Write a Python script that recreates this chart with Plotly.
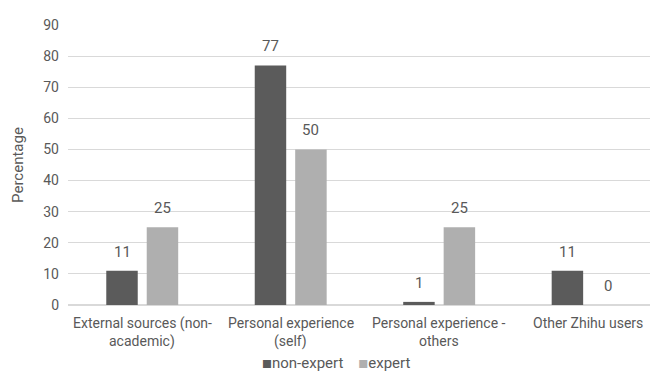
import plotly.graph_objects as go

# Category names; "<br>" marks where each label wraps onto a second line
categories = [
    "External sources (non-<br>academic)",
    "Personal experience<br>(self)",
    "Personal experience -<br>others",
    "Other Zhihu users",
]
non_expert = [11, 77, 1, 11]
expert = [25, 50, 25, 0]
y_ticks = [0, 10, 20, 30, 40, 50, 60, 70, 80, 90]
series_names = ["non-expert", "expert"]
series_colors = ["#5b5b5b", "#afafaf"]

FONT = "Roboto"
TEXT_COLOR = "#595959"
GRID = "#d9d9d9"

# Plot area geometry (pixels)
L, T, B, W, H = 68, 25, 68, 650, 373
PLOT_W = W - L
BAR_OFFSET = 20  # px from category centre to each bar centre

fig = go.Figure()
for name, vals, color in zip(series_names, [non_expert, expert], series_colors):
    fig.add_trace(go.Bar(
        name=name, x=categories, y=vals,
        marker=dict(color=color, line=dict(width=0)),
        showlegend=False,
    ))

annotations = []
# Value labels above each bar
for vals, shift in [(non_expert, -BAR_OFFSET), (expert, BAR_OFFSET)]:
    for cat, v in zip(categories, vals):
        annotations.append(dict(
            x=cat, y=v, xref="x", yref="y", text=str(v), showarrow=False,
            xshift=shift, yshift=19, yanchor="middle", xanchor="center",
            font=dict(family=FONT, size=15, color=TEXT_COLOR),
        ))

# Category labels under the axis, one annotation per line
for cat in categories:
    for i, line in enumerate(cat.split("<br>")):
        annotations.append(dict(
            x=cat, y=0, xref="x", yref="paper", text=line, showarrow=False,
            yshift=-18 - 18 * i, yanchor="middle", xanchor="center",
            font=dict(family=FONT, size=14, color=TEXT_COLOR),
        ))

# Legend row: small square swatch followed by the series name
legend_text = "&nbsp;&nbsp;&nbsp;&nbsp;".join(
    f"<span style='color:{c};font-family:Noto Sans CJK SC;font-size:10px'>■</span>{n}"
    for n, c in zip(series_names, series_colors)
)
annotations.append(dict(
    x=(336 - L) / PLOT_W, y=0, xref="paper", yref="paper", text=legend_text,
    showarrow=False, yshift=-58, yanchor="middle", xanchor="center",
    font=dict(family=FONT, size=15, color=TEXT_COLOR),
))

fig.update_layout(
    width=W, height=H,
    margin=dict(l=L, r=0, t=T, b=B),
    paper_bgcolor="white", plot_bgcolor="white",
    barmode="group", bargap=0.455, bargroupgap=0.222,
    font=dict(family=FONT, size=13, color=TEXT_COLOR),
    showlegend=False,
    annotations=annotations,
    xaxis=dict(
        range=[-0.5, 3.42], showgrid=False, showline=True,
        linecolor=GRID, linewidth=1, ticks="", showticklabels=False,
        fixedrange=True,
    ),
    yaxis=dict(
        range=[0, 90], tickvals=y_ticks, showgrid=True,
        gridcolor=GRID, gridwidth=1, zeroline=True, zerolinecolor=GRID,
        showline=False, ticks="", ticklabelstandoff=8,
        tickfont=dict(family=FONT, size=14, color=TEXT_COLOR),
        title=dict(text="Percentage", standoff=16,
                   font=dict(family=FONT, size=15, color=TEXT_COLOR)),
    ),
)

fig.write_html("out.html")
